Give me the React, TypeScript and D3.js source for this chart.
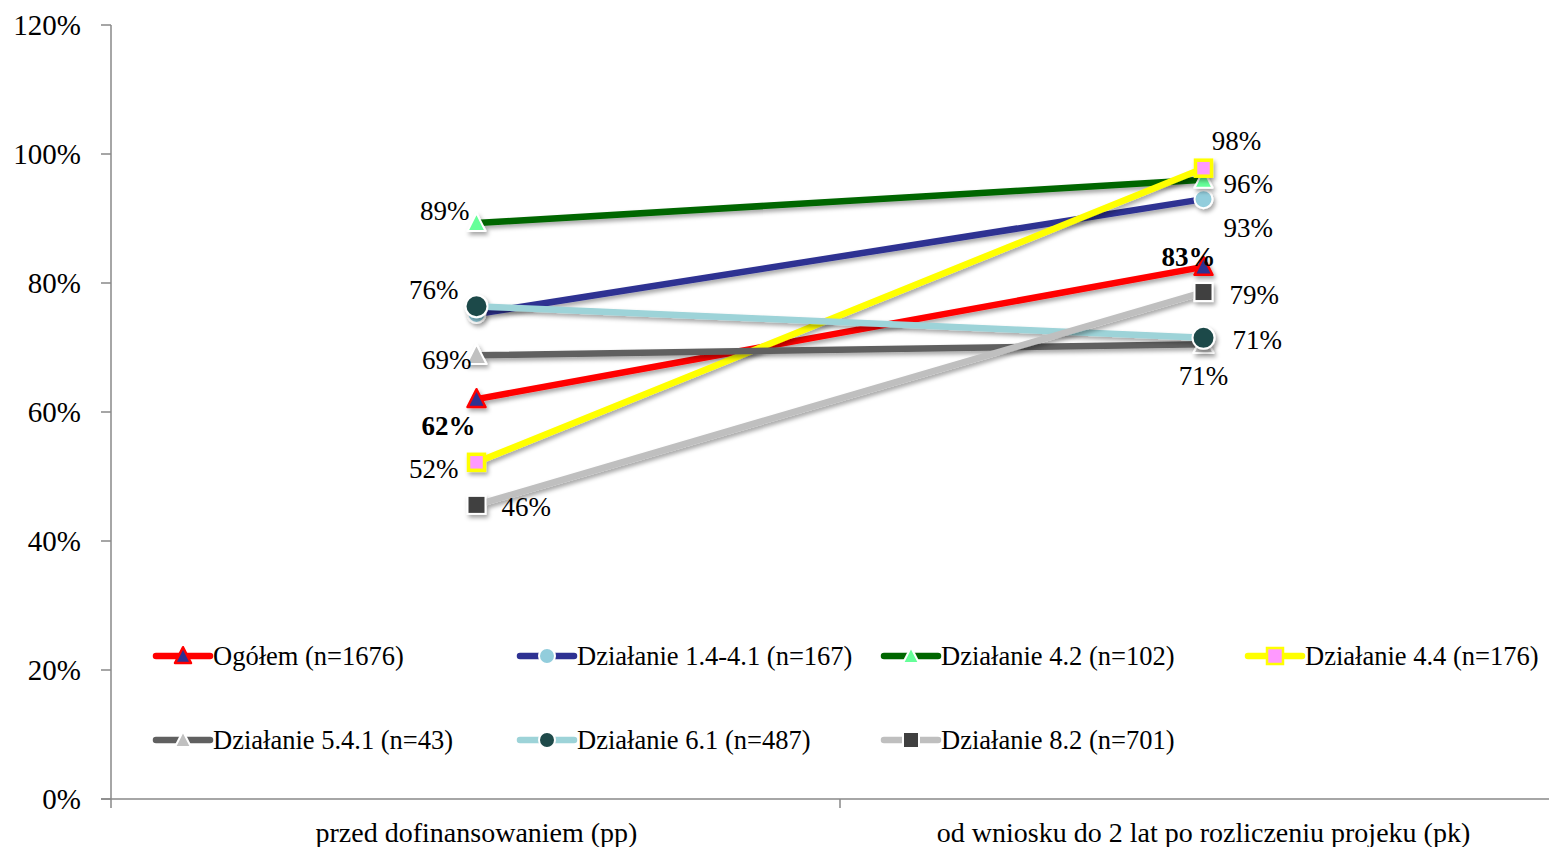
import React from "react";
import * as d3 from "d3";

const categories = ["przed dofinansowaniem (pp)", "od wniosku do 2 lat po rozliczeniu projeku (pk)"];
const seriesNames = [
  "Ogółem (n=1676)",
  "Działanie 1.4-4.1 (n=167)",
  "Działanie 4.2 (n=102)",
  "Działanie 4.4 (n=176)",
  "Działanie 5.4.1 (n=43)",
  "Działanie 6.1 (n=487)",
  "Działanie 8.2 (n=701)",
];
const ogolem = [0.62, 0.825];
const dz1441 = [0.752, 0.93];
const dz42 = [0.893, 0.96];
const dz44 = [0.522, 0.978];
const dz541 = [0.688, 0.705];
const dz61 = [0.764, 0.715];
const dz82 = [0.456, 0.786];
const seriesValues = [ogolem, dz1441, dz42, dz44, dz541, dz61, dz82];
const labelTexts = [
  ["62%", "83%"],
  [null, "93%"],
  ["89%", "96%"],
  ["52%", "98%"],
  ["69%", "71%"],
  ["76%", "71%"],
  ["46%", "79%"],
];
const yTicks = [0, 0.2, 0.4, 0.6, 0.8, 1.0, 1.2];

// styles
const styles = [
  { line: "#FF0000", shape: "tri", fill: "#2E3192", stroke: "#FF0000", sw: 2.5, size: 9, bold: true },
  { line: "#2E3192", shape: "circ", fill: "#92CDDC", stroke: "#FFFFFF", sw: 2, size: 9, bold: false },
  { line: "#006600", shape: "tri", fill: "#66FF99", stroke: "#FFFFFF", sw: 2, size: 9, bold: false },
  { line: "#FFFF00", shape: "sq", fill: "#FF99FF", stroke: "#FFFF00", sw: 3.5, size: 8, bold: false },
  { line: "#606060", shape: "tri", fill: "#C0C0C0", stroke: "#FFFFFF", sw: 2, size: 10, bold: false },
  { line: "#9DD3D8", shape: "circ", fill: "#1F4A4A", stroke: "#FFFFFF", sw: 2, size: 11, bold: false },
  { line: "#BFBFBF", shape: "sq", fill: "#404040", stroke: "#FFFFFF", sw: 2, size: 9, bold: false },
];
// label offsets [pp, pk]: [anchor, dx, dy]
const labelPos: any[] = [
  [["middle", -28, 27], ["middle", -15, -10]],
  [null, ["start", 20, 29]],
  [["end", -7, -12], ["start", 20, 4]],
  [["end", -18, 7], ["middle", 33, -27]],
  [["end", -5, 5], ["middle", 0, 32]],
  [["end", -18, -16], ["start", 29, 2]],
  [["start", 25, 2], ["start", 26, 3]],
];

const W = 1549, H = 847;
const FONT = "'Liberation Serif', 'Times New Roman', serif";

function Marker({ x, y, st }: any) {
  const s = st.size;
  if (st.shape === "circ") return <circle cx={x} cy={y} r={s} fill={st.fill} stroke={st.stroke} strokeWidth={st.sw} />;
  if (st.shape === "sq") return <rect x={x - s} y={y - s} width={2 * s} height={2 * s} fill={st.fill} stroke={st.stroke} strokeWidth={st.sw} />;
  const h = s * 1.1;
  return <path d={`M${x},${y - h} L${x + s},${y + h * 0.8} L${x - s},${y + h * 0.8} Z`} fill={st.fill} stroke={st.stroke} strokeWidth={st.sw} strokeLinejoin="round" />;
}

export default function App() {
  const y = d3.scaleLinear().domain([0, 1.2]).range([799, 25]);
  const x = d3.scaleBand().domain(categories).range([113, 1567]);
  const cx = (c: string) => (x(c) as number) + x.bandwidth() / 2;
  const line = d3.line<number>().x((_, i) => cx(categories[i])).y((v) => y(v));

  const legendCols = [153, 517, 881, 1245];
  const legendRows = [656, 740];

  return (
    <svg width={W} height={H} style={{ position: "absolute", left: 0, top: 0, background: "#fff" }} fontFamily={FONT}>
      <defs>
        <filter id="sh" x="-20%" y="-50%" width="140%" height="200%">
          <feDropShadow dx="2" dy="3" stdDeviation="2" floodColor="#000" floodOpacity="0.35" />
        </filter>
      </defs>
      {/* y axis */}
      <line x1={111} x2={111} y1={25} y2={799} stroke="#888" strokeWidth={1.5} />
      {yTicks.map((t) => (
        <g key={t}>
          <line x1={101} x2={111} y1={y(t)} y2={y(t)} stroke="#888" strokeWidth={1.5} />
          <text x={81} y={y(t)} textAnchor="end" dominantBaseline="central" fontSize={29}>
            {d3.format(".0%")(t)}
          </text>
        </g>
      ))}
      {/* x axis */}
      <line x1={101} x2={W} y1={799} y2={799} stroke="#888" strokeWidth={1.5} />
      {[113, 113 + x.bandwidth()].map((t, i) => (
        <line key={i} x1={i === 0 ? 111 : t} x2={i === 0 ? 111 : t} y1={799} y2={808} stroke="#888" strokeWidth={1.5} />
      ))}
      {categories.map((c) => (
        <text key={c} x={cx(c)} y={832} textAnchor="middle" dominantBaseline="central" fontSize={28}>
          {c}
        </text>
      ))}
      {/* series */}
      {seriesValues.map((vals, si) => {
        const st = styles[si];
        return (
          <g key={si} filter="url(#sh)">
            <path d={line(vals) as string} fill="none" stroke={st.line} strokeWidth={6.5} strokeLinecap="round" />
            {vals.map((v, i) => (
              <Marker key={i} x={cx(categories[i])} y={y(v)} st={st} />
            ))}
          </g>
        );
      })}
      {/* labels */}
      {seriesValues.map((vals, si) =>
        vals.map((v, i) => {
          const lp = labelPos[si][i];
          const txt = labelTexts[si][i];
          if (!lp || !txt) return null;
          return (
            <text key={`${si}-${i}`} x={cx(categories[i]) + lp[1]} y={y(v) + lp[2]} textAnchor={lp[0]} dominantBaseline="central" fontSize={27} fontWeight={styles[si].bold ? "bold" : "normal"}>
              {txt}
            </text>
          );
        })
      )}
      {/* legend */}
      {seriesNames.map((n, si) => {
        const st = styles[si];
        const lx = legendCols[si % 4];
        const ly = legendRows[Math.floor(si / 4)];
        const ms = { ...st, size: Math.min(st.size, 8), sw: Math.min(st.sw, 2.5) };
        return (
          <g key={n}>
            <line x1={lx + 3} x2={lx + 57} y1={ly} y2={ly} stroke={st.line} strokeWidth={6.5} strokeLinecap="round" />
            <Marker x={lx + 30} y={ly} st={ms} />
            <text x={lx + 60} y={ly} dominantBaseline="central" fontSize={26.5}>
              {n}
            </text>
          </g>
        );
      })}
    </svg>
  );
}
